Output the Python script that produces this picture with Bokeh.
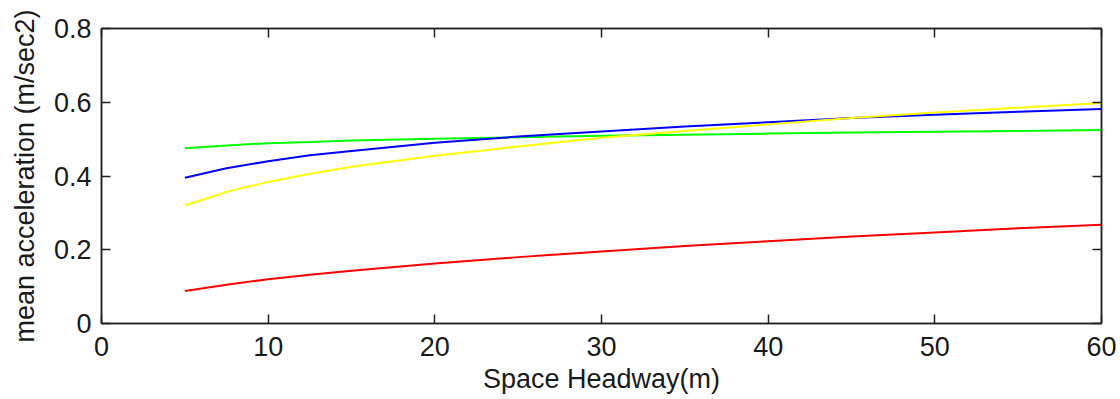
from bokeh.plotting import figure
from bokeh.models import LinearAxis, FixedTicker, Range1d
from bokeh.embed import file_html
from bokeh.resources import INLINE

# Data
headway = [5, 7.5, 10, 12.5, 15, 20, 25, 30, 35, 40, 45, 50, 55, 60]
green_acc = [0.475, 0.483, 0.489, 0.492, 0.496, 0.501, 0.505, 0.509, 0.512, 0.515, 0.518, 0.520, 0.522, 0.525]
blue_acc = [0.395, 0.421, 0.440, 0.456, 0.468, 0.490, 0.507, 0.521, 0.534, 0.546, 0.557, 0.566, 0.574, 0.582]
yellow_acc = [0.320, 0.357, 0.384, 0.406, 0.425, 0.455, 0.480, 0.504, 0.522, 0.540, 0.557, 0.572, 0.585, 0.598]
red_acc = [0.088, 0.105, 0.120, 0.132, 0.143, 0.163, 0.180, 0.195, 0.210, 0.223, 0.236, 0.247, 0.258, 0.268]

x_ticks = [0, 10, 20, 30, 40, 50, 60]
y_ticks = [0, 0.2, 0.4, 0.6, 0.8]
x_title = "Space Headway(m)"
y_title = "mean acceleration (m/sec2)"

FONT = "Liberation Sans"
FS = "27px"
DARK = "#222222"

p = figure(width=1120, height=399, output_backend="svg", toolbar_location=None,
           x_range=Range1d(0, 60), y_range=Range1d(0, 0.8))
p.min_border_left = 101
p.min_border_right = 19
p.min_border_top = 28
p.min_border_bottom = 76
p.grid.visible = False
p.outline_line_color = DARK
p.outline_line_width = 1.5
p.background_fill_color = "white"
p.border_fill_color = "white"

for ax, ticks in ((p.xaxis[0], x_ticks), (p.yaxis[0], y_ticks)):
    ax.ticker = FixedTicker(ticks=ticks, minor_ticks=[])
    ax.major_tick_in = 9
    ax.major_tick_out = 0
    ax.minor_tick_in = 0
    ax.minor_tick_out = 0
    ax.major_tick_line_color = DARK
    ax.major_tick_line_width = 1.5
    ax.axis_line_color = DARK
    ax.axis_line_width = 1.5
    ax.major_label_text_font = FONT
    ax.major_label_text_font_size = FS
    ax.major_label_text_color = "#1a1a1a"
    ax.axis_label_text_font = FONT
    ax.axis_label_text_font_size = FS
    ax.axis_label_text_font_style = "normal"
    ax.axis_label_text_color = "#1a1a1a"

p.xaxis[0].axis_label = x_title
p.yaxis[0].axis_label = y_title
p.xaxis[0].major_label_standoff = 13
p.xaxis[0].axis_label_standoff = 5
p.yaxis[0].major_label_standoff = 10
p.yaxis[0].axis_label_standoff = 11

# Box ticks on top and right (no labels)
top = LinearAxis(ticker=FixedTicker(ticks=x_ticks, minor_ticks=[]))
right = LinearAxis(ticker=FixedTicker(ticks=y_ticks, minor_ticks=[]))
for ax, ticks in ((top, x_ticks), (right, y_ticks)):
    ax.major_tick_in = 9
    ax.major_tick_out = 0
    ax.minor_tick_in = 0
    ax.minor_tick_out = 0
    ax.major_tick_line_color = DARK
    ax.major_tick_line_width = 1.5
    ax.axis_line_color = DARK
    ax.axis_line_width = 1.5
    ax.major_label_overrides = {t: "" for t in ticks}
    ax.major_label_text_font_size = "10px"
    ax.major_label_standoff = 0
p.add_layout(top, "above")
p.add_layout(right, "right")

p.line(headway, green_acc, line_color="#00FF00", line_width=2)
p.line(headway, blue_acc, line_color="#0000FF", line_width=2)
p.line(headway, yellow_acc, line_color="#FFFF00", line_width=2)
p.line(headway, red_acc, line_color="#FF0000", line_width=2)

open("out.html", "w").write(file_html(p, INLINE))
